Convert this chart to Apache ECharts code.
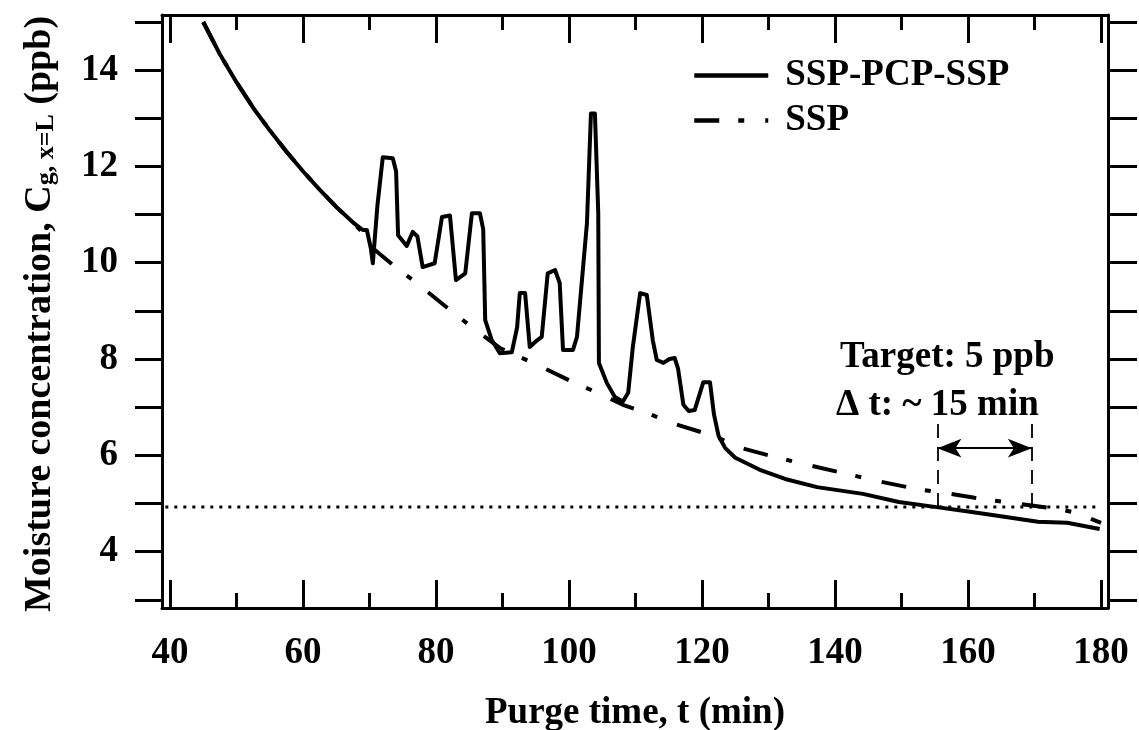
<!DOCTYPE html>
<html>
<head>
<meta charset="utf-8">
<script src="https://cdn.jsdelivr.net/npm/echarts@6/dist/echarts.min.js"></script>
<style>
    html, body { margin: 0; padding: 0; background: #fff; }
    #chart { width: 1139px; height: 730px; }
</style>
</head>
<body>
<div id="chart"></div>
<script>
// solid curve: SSP-PCP-SSP
const hybridTime = [45.0, 47.5, 50.0, 52.5, 55.0, 57.5, 60.0, 62.5, 65.0, 67.5, 69.0, 69.6, 70.2, 70.5, 71.2, 72.0, 73.5, 74.0, 74.3,
    75.6, 76.5, 77.2, 78.0, 79.8, 80.9, 82.1, 83.0, 84.4, 85.4, 86.6, 87.1, 87.4, 88.4, 89.6, 91.4, 92.2, 92.6, 93.4,
    94.1, 95.2, 95.9, 96.8, 97.9, 98.6, 99.1, 100.6, 101.2, 102.7, 103.3, 103.9, 104.4, 104.5, 105.7, 106.9, 108.1,
    108.9, 109.6, 110.7, 111.7, 112.6, 113.2, 114.2, 115.1, 115.9, 116.4, 117.2, 118.0, 118.9, 120.2, 121.2, 121.8,
    122.5, 123.5, 125.0, 128.7, 132.5, 137.3, 144.2, 149.6, 155.0, 160.3, 165.7, 170.5, 174.9, 179.8];
const hybridConc = [15.0, 14.33, 13.75, 13.22, 12.75, 12.31, 11.9, 11.52, 11.16, 10.84, 10.68, 10.68, 10.3, 9.99, 11.2, 12.19, 12.17, 11.9, 10.57,
    10.35, 10.64, 10.55, 9.91, 9.99, 10.95, 10.98, 9.64, 9.78, 11.03, 11.03, 10.7, 8.81, 8.39, 8.12, 8.14, 8.66, 9.37, 9.37,
    8.25, 8.39, 8.46, 9.78, 9.85, 9.58, 8.19, 8.19, 8.46, 10.82, 13.1, 13.1, 11.03, 7.92, 7.5, 7.21, 7.12,
    7.3, 8.25, 9.37, 9.33, 8.39, 7.98, 7.92, 8.0, 8.02, 7.8, 7.05, 6.92, 6.94, 7.52, 7.52, 6.85,
    6.4, 6.15, 5.95, 5.70, 5.51, 5.34, 5.2, 5.03, 4.93, 4.83, 4.72, 4.62, 4.6, 4.47];

// dash-dot curve: SSP
const sspTime = [45.0, 47.5, 50.0, 52.5, 55.0, 57.5, 60.0, 62.5, 65.0, 67.5, 69.0, 70.5, 74.1, 77.1, 82.1, 85.6, 89.6, 94.6, 100.6,
    105.1, 108.1, 111.7, 116.0, 121.8, 126.0, 130.8, 136.0, 141.6, 147.0, 152.3, 156.5, 161.0, 165.0, 169.0, 173.8,
    176.5, 178.5, 180.0];
const sspConc = [15.0, 14.33, 13.75, 13.22, 12.75, 12.31, 11.9, 11.52, 11.16, 10.84, 10.62, 10.3, 9.89, 9.58, 9.02, 8.64, 8.23, 7.92, 7.52,
    7.25, 7.05, 6.88, 6.65, 6.4, 6.15, 5.97, 5.8, 5.62, 5.45, 5.3, 5.22, 5.12, 5.04, 4.97, 4.88,
    4.8, 4.68, 4.6];

const targetConc = 4.93;
const targetSpan = [39.3, 180.0];
const deltaStart = 155.4;
const deltaEnd = 169.6;
const bracketTop = 6.7;
const arrowLevel = 6.15;

const xMajorTicks = [40, 60, 80, 100, 120, 140, 160, 180];
const xMinorTicks = [50, 70, 90, 110, 130, 150, 170];
const yTicks = [3, 4, 5, 6, 7, 8, 9, 10, 11, 12, 13, 14, 15];
const yLabels = [4, 6, 8, 10, 12, 14];

const FONT = '"Liberation Serif", "Times New Roman", serif';
const xRange = [38.8, 181.05];
const yRange = [2.83, 15.145];

let chart = echarts.init(document.getElementById('chart'));

let xAxisBase = (position, ticks, len, showLine) => {
    return {
        type: 'value',
        position: position,
        min: xRange[0],
        max: xRange[1],
        axisLine: { show: showLine, onZero: false, lineStyle: { color: '#000', width: 3 } },
        axisTick: { inside: true, length: len, customValues: ticks, lineStyle: { color: '#000', width: 3 } },
        axisLabel: { show: false },
        splitLine: { show: false }
    };
};

let yAxisBase = (position, len) => {
    return {
        type: 'value',
        position: position,
        min: yRange[0],
        max: yRange[1],
        axisLine: { show: true, onZero: false, lineStyle: { color: '#000', width: 3 } },
        axisTick: { inside: false, length: len, customValues: yTicks, lineStyle: { color: '#000', width: 3 } },
        axisLabel: { show: false },
        splitLine: { show: false }
    };
};

let bottomMajor = xAxisBase('bottom', xMajorTicks, 28, true);
bottomMajor.axisLabel = {
    show: true,
    customValues: xMajorTicks,
    margin: 27,
    color: '#000',
    fontFamily: FONT,
    fontWeight: 'bold',
    fontSize: 37
};
bottomMajor.name = 'Purge time, t (min)';
bottomMajor.nameLocation = 'middle';
bottomMajor.nameGap = 87;
bottomMajor.nameTextStyle = { color: '#000', fontFamily: FONT, fontWeight: 'bold', fontSize: 37 };

let leftAxis = yAxisBase('left', 27);
leftAxis.axisLabel = {
    show: true,
    customValues: yLabels,
    margin: 44,
    color: '#000',
    fontFamily: FONT,
    fontWeight: 'bold',
    fontSize: 37
};

let pairs = (xs, ys) => xs.map((x, i) => [x, ys[i]]);

let option = {
    backgroundColor: '#fff',
    animation: false,
    grid: { left: 162, right: 31, top: 15, bottom: 122, outerBoundsMode: 'none', containLabel: false },
    xAxis: [
        bottomMajor,
        xAxisBase('bottom', xMinorTicks, 15, false),
        xAxisBase('top', xMajorTicks, 28, true),
        xAxisBase('top', xMinorTicks, 15, false)
    ],
    yAxis: [leftAxis, yAxisBase('right', 29)],
    legend: {
        data: ['SSP-PCP-SSP', 'SSP'],
        orient: 'vertical',
        left: 692,
        top: 57,
        padding: 0,
        itemWidth: 74,
        itemHeight: 14,
        itemGap: 8,
        itemStyle: { opacity: 0 },
        lineStyle: { width: 4.5 },
        textStyle: {
            color: '#000',
            fontFamily: FONT,
            fontWeight: 'bold',
            fontSize: 37,
            padding: [0, 0, 0, 12]
        }
    },
    graphic: [
        {
            type: 'text',
            x: 40,
            y: 314,
            rotation: Math.PI / 2,
            style: {
                text: 'Moisture concentration, C{s|g, x=L} (ppb)',
                align: 'center',
                verticalAlign: 'middle',
                fill: '#000',
                font: 'bold 38px ' + FONT,
                rich: {
                    s: { fontSize: 26, fontWeight: 'bold', fontFamily: FONT, fill: '#000', verticalAlign: 'bottom', padding: [12, 0, 0, 0] }
                }
            }
        },
        {
            type: 'text',
            x: 840,
            y: 357,
            style: { text: 'Target: 5 ppb', fill: '#000', font: 'bold 37px ' + FONT, verticalAlign: 'middle' }
        },
        {
            type: 'text',
            x: 836,
            y: 405,
            style: { text: 'Δ t: ~ 15 min', fill: '#000', font: 'bold 37px ' + FONT, verticalAlign: 'middle' }
        }
    ],
    series: [
        {
            name: 'SSP',
            type: 'line',
            data: pairs(sspTime, sspConc),
            symbol: 'none',
            lineStyle: { color: '#000', width: 4, type: [25, 19, 6, 21], cap: 'butt' },
            itemStyle: { color: '#000' },
            z: 3
        },
        {
            name: 'SSP-PCP-SSP',
            type: 'line',
            data: pairs(hybridTime, hybridConc),
            symbol: 'none',
            lineStyle: { color: '#000', width: 4, join: 'round' },
            itemStyle: { color: '#000' },
            z: 4
        },
        {
            name: 'target',
            type: 'line',
            data: targetSpan.map(t => [t, targetConc]),
            symbol: 'none',
            silent: true,
            lineStyle: { color: '#000', width: 3, type: [3, 6] },
            markLine: {
                silent: true,
                label: { show: false },
                emphasis: { disabled: true },
                data: [
                    [
                        { coord: [deltaStart, targetConc], symbol: 'none', lineStyle: { type: [14, 9], width: 1.8, color: '#000' } },
                        { coord: [deltaStart, bracketTop], symbol: 'none' }
                    ],
                    [
                        { coord: [deltaEnd, targetConc], symbol: 'none', lineStyle: { type: [14, 9], width: 1.8, color: '#000' } },
                        { coord: [deltaEnd, bracketTop], symbol: 'none' }
                    ],
                    [
                        { coord: [deltaStart, arrowLevel], symbol: 'arrow', symbolSize: [14, 24], lineStyle: { type: 'solid', width: 2, color: '#000' } },
                        { coord: [deltaEnd, arrowLevel], symbol: 'arrow', symbolSize: [14, 24] }
                    ]
                ]
            }
        }
    ]
};

chart.setOption(option);
</script>
</body>
</html>
